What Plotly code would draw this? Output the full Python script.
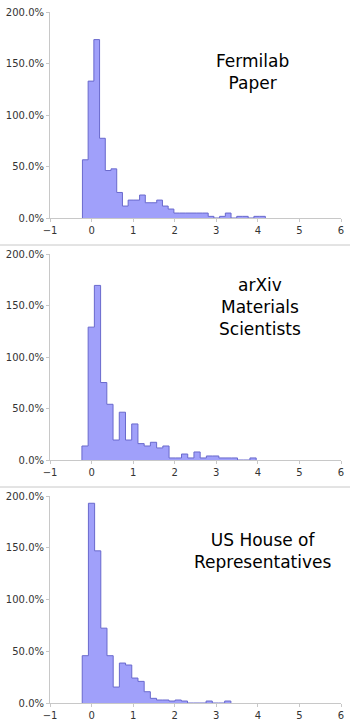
import plotly.graph_objects as go

# Histogram data (fraction, shown as %), bins defined by start and width
titles = ["Fermilab<br>Paper", "arXiv<br>Materials<br>Scientists", "US House of<br>Representatives"]

bin_start = [-0.22, -0.232, -0.225]
bin_width = [0.1375, 0.1497, 0.149]

fermilab = [0.565, 1.329, 1.732, 0.774, 0.461, 0.477, 0.248, 0.116, 0.174, 0.174,
            0.223, 0.148, 0.148, 0.174, 0.116, 0.087, 0.048, 0.048, 0.048, 0.048,
            0.048, 0.048, 0.016, 0.0, 0.016, 0.048, 0.0, 0.016, 0.016, 0.0,
            0.016, 0.016]

arxiv = [0.136, 1.29, 1.695, 0.752, 0.541, 0.194, 0.464, 0.194, 0.35, 0.159,
         0.136, 0.172, 0.117, 0.136, 0.02, 0.02, 0.058, 0.02, 0.078, 0.02,
         0.039, 0.039, 0.02, 0.02, 0.02, 0.0, 0.0, 0.02]

house = [0.457, 1.93, 1.47, 0.723, 0.457, 0.154, 0.386, 0.367, 0.241, 0.209,
         0.109, 0.045, 0.029, 0.029, 0.019, 0.029, 0.019, 0.0, 0.0, 0.0,
         0.019, 0.0, 0.0, 0.019]

series = [fermilab, arxiv, house]

y_ticks = [0, 0.5, 1.0, 1.5, 2.0]
x_ticks = [-1, 0, 1, 2, 3, 4, 5, 6]

W, H = 350, 728
# pixel layout of each panel (top, bottom) of plotting area
panel_px = [(12, 218), (254, 460), (496, 703)]
x_px = (50, 341)

fig = go.Figure()
annotations = []
shapes = []
title_px = [(252, 72), (260, 307), (262, 551)]

for i, (vals, s, w) in enumerate(zip(series, bin_start, bin_width)):
    edges = [s + k * w for k in range(len(vals) + 1)]
    xs = [edges[0]] + edges[:-1] + [edges[-1], edges[-1]]
    ys = [0] + list(vals) + [vals[-1], 0]
    ax = "" if i == 0 else str(i + 1)
    fig.add_trace(go.Scatter(
        x=xs, y=ys, mode="lines", line=dict(shape="hv", color="rgb(105,105,205)", width=1),
        fill="tozeroy", fillcolor="rgb(160,160,250)", hoverinfo="skip",
        xaxis="x" + ax, yaxis="y" + ax, showlegend=False))
    top, bot = panel_px[i]
    ydom = [1 - bot / H, 1 - top / H]
    xdom = [x_px[0] / W, x_px[1] / W]
    common = dict(showgrid=False, zeroline=False, showline=True, linecolor="#c8c8c8",
                  linewidth=1, ticks="outside", ticklen=3, tickcolor="#c8c8c8",
                  tickfont=dict(family="DejaVu Sans", size=10, color="#333"),
                  automargin=False, fixedrange=True)
    fig.update_layout(**{
        "xaxis" + ax: dict(domain=xdom, range=[-1, 6], tickvals=x_ticks,
                           anchor="y" + ax, **common),
        "yaxis" + ax: dict(domain=ydom, range=[0, 2], tickvals=y_ticks,
                           tickformat=".1%", anchor="x" + ax, **common),
    })
    tx, ty = title_px[i]
    annotations.append(dict(text=titles[i], x=tx / W, y=1 - ty / H, xref="paper", yref="paper",
                            showarrow=False, xanchor="center", yanchor="middle",
                            font=dict(family="DejaVu Sans", size=17, color="black")))

for yl in [245, 487]:
    shapes.append(dict(type="line", x0=0, x1=1, xref="paper", y0=1 - yl / H, y1=1 - yl / H,
                       yref="paper", line=dict(color="#c8c8c8", width=1)))

fig.update_layout(width=W, height=H, margin=dict(l=0, r=0, t=0, b=0),
                  template="none", paper_bgcolor="white", plot_bgcolor="white",
                  annotations=annotations, shapes=shapes, showlegend=False)

fig.write_html("out.html")
